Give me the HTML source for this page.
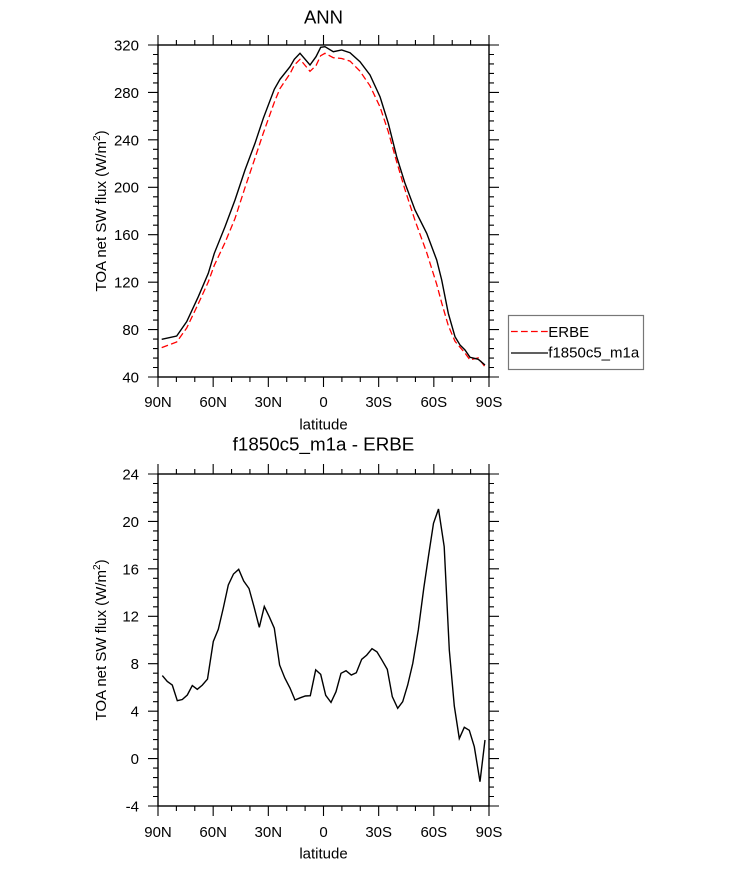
<!DOCTYPE html>
<html>
<head>
<meta charset="utf-8">
<style>
  html, body { margin: 0; padding: 0; background: #ffffff; }
  svg { display: block; }
  text { font-family: "Liberation Sans", Arial, sans-serif; fill: #000; }
</style>
</head>
<body>
<svg width="733" height="869" viewBox="0 0 733 869" xmlns="http://www.w3.org/2000/svg">
  <rect x="0" y="0" width="733" height="869" fill="#ffffff"/>
  <defs>
    <path id="xtk" d="M158 0v10M176.39 0v5M194.78 0v5M213.17 0v10M231.56 0v5M249.94 0v5M268.33 0v10M286.72 0v5M305.11 0v5M323.5 0v10M341.89 0v5M360.28 0v5M378.67 0v10M397.06 0v5M415.44 0v5M433.83 0v10M452.22 0v5M470.61 0v5M489 0v10"/>
    <path id="ytk" d="M0 45h-10M0 54.49h-5M0 63.97h-5M0 73.46h-5M0 82.94h-5M0 92.43h-10M0 101.91h-5M0 111.4h-5M0 120.89h-5M0 130.37h-5M0 139.86h-10M0 149.34h-5M0 158.83h-5M0 168.31h-5M0 177.8h-5M0 187.29h-10M0 196.77h-5M0 206.26h-5M0 215.74h-5M0 225.23h-5M0 234.71h-10M0 244.2h-5M0 253.69h-5M0 263.17h-5M0 272.66h-5M0 282.14h-10M0 291.63h-5M0 301.11h-5M0 310.6h-5M0 320.09h-5M0 329.57h-10M0 339.06h-5M0 348.54h-5M0 358.03h-5M0 367.51h-5M0 377h-10"/>
  </defs>

  <!-- ================= TOP PLOT ================= -->
  <text x="323.5" y="23.3" font-size="18.5" text-anchor="middle">ANN</text>

  <g stroke="#000" stroke-width="1.1" fill="none">
    <use href="#xtk" transform="translate(0,377)"/>
    <use href="#xtk" transform="translate(0,45) scale(1,-1)"/>
    <use href="#ytk" transform="translate(158,0)"/>
    <use href="#ytk" transform="translate(489,0) scale(-1,1)"/>
  </g>

  <!-- curves -->
  <path fill="none" stroke="#ff0000" stroke-width="1.3" stroke-dasharray="6.7 3.3"
    d="M161.7 347.6 L176.7 342 186.7 328 198.3 303.7 208.3 281.9 214.3 265.3 225 242.6 235 218.5 245 187.6 255 158.1 263.3 133.1 274.3 102.3 280 88.5 290 73.7 294.3 65.2 300 59.3 310 71.3 316 65.6 320.7 55.7 325 53.3 333.3 57.7 341.7 58.5 350 61.1 360 71.2 370 85.8 380 106.9 388.3 131.7 396.7 161.9 405 189.7 415 220.4 426.7 252.6 436.7 284.3 441.7 302.9 448.3 325.6 455 341.3 460 347.2 465 353.1 470 359.9 478.3 357.9 485 366.8"/>
  <path fill="none" stroke="#000" stroke-width="1.4"
    d="M161.7 339.3 L176.7 336 186.7 321.7 198.3 296.7 208.3 273.3 214.3 253.3 225 226.7 235 200 245 170 255 143.3 263.3 118.3 274.3 89.3 280 79.3 290 66.7 294.3 59.3 300 53.3 310 65 316 56.7 320.7 47.3 325 46.7 333.3 51.7 341.7 50 350 52.7 360 61.7 370 75 380 96.7 388.3 123.3 396.7 156.7 405 183.3 415 210 426.7 233.3 436.7 260 441.7 280 448.3 313.3 455 336.7 460 345 465 350 470 357.3 478.3 359.3 485 365"/>

  <rect x="158" y="45" width="331" height="332" fill="none" stroke="#000" stroke-width="1.4"/>

  <!-- y tick labels -->
  <g font-size="15" text-anchor="end">
    <text x="139" y="50.4">320</text>
    <text x="139" y="97.8">280</text>
    <text x="139" y="145.3">240</text>
    <text x="139" y="192.7">200</text>
    <text x="139" y="240.1">160</text>
    <text x="139" y="287.5">120</text>
    <text x="139" y="335">80</text>
    <text x="139" y="382.4">40</text>
  </g>
  <!-- x tick labels -->
  <g font-size="15" text-anchor="middle">
    <text x="158" y="407">90N</text>
    <text x="213.2" y="407">60N</text>
    <text x="268.3" y="407">30N</text>
    <text x="323.5" y="407">0</text>
    <text x="378.7" y="407">30S</text>
    <text x="433.8" y="407">60S</text>
    <text x="489" y="407">90S</text>
    <text x="323.5" y="429.5">latitude</text>
  </g>
  <text font-size="15" text-anchor="middle" transform="translate(106,211) rotate(-90)">TOA net SW flux (W/m<tspan font-size="10" dy="-6">2</tspan><tspan dy="6">)</tspan></text>

  <!-- legend -->
  <rect x="508.5" y="315.5" width="135" height="54" fill="#fff" stroke="#777" stroke-width="1.2"/>
  <path d="M511 331.5 H548" stroke="#ff0000" stroke-width="1.3" stroke-dasharray="6.7 3.3" fill="none"/>
  <path d="M511 353 H548" stroke="#000" stroke-width="1.3" fill="none"/>
  <text x="548.3" y="337" font-size="15">ERBE</text>
  <text x="548.3" y="357.5" font-size="15">f1850c5_m1a</text>

  <!-- ================= BOTTOM PLOT ================= -->
  <text x="323.5" y="450.7" font-size="18.8" text-anchor="middle">f1850c5_m1a - ERBE</text>

  <g stroke="#000" stroke-width="1.1" fill="none">
    <use href="#xtk" transform="translate(0,806)"/>
    <use href="#xtk" transform="translate(0,474) scale(1,-1)"/>
    <use href="#ytk" transform="translate(158,429)"/>
    <use href="#ytk" transform="translate(489,429) scale(-1,1)"/>
  </g>

  <path fill="none" stroke="#000" stroke-width="1.4"
    d="M162.3 675.6 L167.3 681.5 172.3 685.1 177.3 700.7 182.3 699.5 187.3 695 192.3 685.6 197.3 689.3 202.3 685.1 207.5 679.1 213.3 641.5 218.3 629.3 223.3 608 228.3 585 233.5 574 238.7 569.3 243.7 581 249 588.5 254 606.7 259.3 627.3 264.3 606.5 269.3 616.8 274.3 628.2 279.6 665 284.8 678 290 688 295 700 300.2 697.8 305.3 696 310.3 695.7 315.7 669.8 320.7 674.4 325.7 695.3 331 702.4 336 691.7 341 673.3 346 670.7 351.3 675 356.3 672.7 361.7 659.3 366.7 655.1 372 648.7 377 651.9 382 660.2 387.3 669.4 392.3 696.7 397.7 708.3 402.7 701.7 407.7 685 412.8 663.3 418.3 630 423.8 588 428.5 556 433.5 523.3 438.5 509 444.2 546.7 449.3 650 454.3 706 459.3 738.5 464.3 727.3 469.3 730.3 474.3 746.7 480 781.7 485 740"/>

  <rect x="158" y="474" width="331" height="332" fill="none" stroke="#000" stroke-width="1.4"/>

  <g font-size="15" text-anchor="end">
    <text x="139" y="479.4">24</text>
    <text x="139" y="526.8">20</text>
    <text x="139" y="574.3">16</text>
    <text x="139" y="621.7">12</text>
    <text x="139" y="669.1">8</text>
    <text x="139" y="716.5">4</text>
    <text x="139" y="764">0</text>
    <text x="139" y="811.4">-4</text>
  </g>
  <g font-size="15" text-anchor="middle">
    <text x="158" y="837">90N</text>
    <text x="213.2" y="837">60N</text>
    <text x="268.3" y="837">30N</text>
    <text x="323.5" y="837">0</text>
    <text x="378.7" y="837">30S</text>
    <text x="433.8" y="837">60S</text>
    <text x="489" y="837">90S</text>
    <text x="323.5" y="858.5">latitude</text>
  </g>
  <text font-size="15" text-anchor="middle" transform="translate(106,640) rotate(-90)">TOA net SW flux (W/m<tspan font-size="10" dy="-6">2</tspan><tspan dy="6">)</tspan></text>
</svg>
</body>
</html>
